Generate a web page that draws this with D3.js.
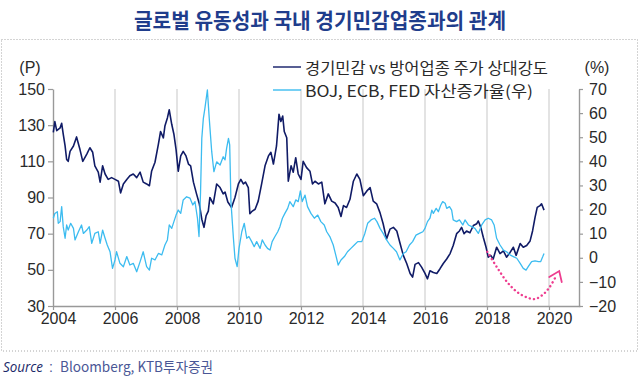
<!DOCTYPE html>
<html><head><meta charset="utf-8">
<script src="https://cdn.jsdelivr.net/npm/d3@7"></script>
<style>
body{margin:0;background:#fff;}
svg{display:block;}
</style></head><body>
<svg id="c" width="640" height="378"></svg>
<script>
const titleText = "글로벌 유동성과 국내 경기민감업종과의 관계";
const seriesNames = ["경기민감 vs 방어업종 주가 상대강도", "BOJ, ECB, FED 자산증가율(우)"];
const leftUnit = "(P)";
const rightUnit = "(%)";
const sourceLabel = "Source";
const sourceText = "Bloomberg, KTB투자증권";
const xTicks = [2004, 2006, 2008, 2010, 2012, 2014, 2016, 2018, 2020];
const leftTicks = [30, 50, 70, 90, 110, 130, 150];
const rightTicks = [-20, -10, 0, 10, 20, 30, 40, 50, 60, 70];

// 경기민감 vs 방어업종 주가 상대강도 (left axis)
const cyclicalYears = [2004.01,2004.06,2004.12,2004.23,2004.28,2004.33,2004.39,2004.44,2004.49,2004.55,2004.66,2004.76,2004.87,2004.96,
2005.09,2005.19,2005.28,2005.35,2005.46,2005.52,2005.60,2005.68,2005.78,2005.89,
2006.00,2006.11,2006.18,2006.27,2006.38,2006.48,2006.59,2006.70,2006.81,2006.91,
2007.02,2007.11,2007.18,2007.29,2007.40,2007.47,2007.56,2007.61,2007.69,2007.75,2007.83,2007.90,2007.97,
2008.04,2008.12,2008.20,2008.29,2008.37,2008.44,2008.53,2008.63,2008.72,2008.80,2008.87,2008.94,
2009.01,2009.06,2009.17,2009.28,2009.39,2009.49,2009.55,2009.64,2009.76,2009.87,2009.98,
2010.06,2010.14,2010.21,2010.30,2010.35,2010.43,2010.52,2010.62,2010.73,2010.84,2010.95,
2011.03,2011.11,2011.21,2011.29,2011.35,2011.41,2011.46,2011.54,2011.59,2011.68,2011.75,2011.83,2011.91,
2012.00,2012.07,2012.18,2012.29,2012.37,2012.45,2012.56,2012.67,2012.77,2012.88,2012.99,
2013.10,2013.20,2013.29,2013.37,2013.47,2013.58,2013.69,2013.80,2013.90,
2014.01,2014.12,2014.23,2014.33,2014.44,2014.55,2014.65,2014.76,2014.87,2014.98,
2015.09,2015.19,2015.30,2015.41,2015.52,2015.60,2015.68,2015.79,2015.89,
2016.00,2016.08,2016.16,2016.27,2016.38,2016.48,2016.59,2016.70,2016.81,2016.91,
2017.02,2017.11,2017.18,2017.26,2017.34,2017.45,2017.56,2017.67,2017.72,2017.80,2017.88,2017.97,
2018.04,2018.12,2018.20,2018.31,2018.42,2018.53,2018.63,2018.74,2018.85,2018.94,
2019.07,2019.17,2019.28,2019.39,2019.47,2019.55,2019.62,2019.71,2019.76,2019.84];
const cyclicalValues = [126,132,127,128.5,131,125,118.5,111,110,115.5,118.5,123.5,116.5,110,
114,117.5,115,107.5,104,98.5,107.5,103,100,101,
100,99,92.5,97.5,100,102,103,101,104,98.5,
97.5,96.5,104.5,109.5,119.5,126.5,123,129.5,134,138.5,130.5,125,116.5,
104.5,113,115.5,113,108.5,107.5,98.5,92,86.5,78,73.5,80,
82.5,90,86.5,97.5,95.5,92,93,87.5,84.5,90,97.5,
100,97.5,98.5,95.5,81,82.5,83.5,88,97.5,107.5,113,
115,108.5,118.5,136,132,135,126.5,123,99,107.5,104,112,103,
100,110,106.5,104.5,97.5,99,97.5,98.5,86.5,92,88,
87,84.5,79.5,85.5,84.5,89,99,103,100,
91,93.5,95.5,88,86.5,81.5,75.5,67,72.5,73.5,
71.5,65,58,53.5,48,46,53,54,51.5,
48,45,49.5,48.5,48,50.5,53.5,56,59,63.5,
70,71.5,73.5,70,71.5,70.5,74.5,75.5,77,73.5,68,62.5,
57,58,56,62.5,59,60.5,57,59.5,62.5,58,
64.5,62.5,63.5,66,71.5,79,84.5,85.5,86.5,83];

// BOJ, ECB, FED 자산증가율 (right axis, %)
const assetYears = [2004.01,2004.06,2004.14,2004.17,2004.23,2004.28,2004.33,2004.39,2004.44,2004.49,2004.57,2004.66,2004.71,2004.82,2004.92,2004.98,
2005.09,2005.17,2005.25,2005.35,2005.46,2005.52,2005.60,2005.68,2005.75,2005.84,2005.92,
2006.00,2006.05,2006.16,2006.27,2006.38,2006.48,2006.59,2006.70,2006.81,2006.91,
2007.02,2007.11,2007.18,2007.29,2007.40,2007.51,2007.61,2007.69,2007.75,2007.83,2007.90,2007.97,
2008.04,2008.12,2008.20,2008.31,2008.42,2008.51,2008.58,2008.66,2008.71,2008.76,2008.80,2008.85,2008.90,2008.98,
2009.04,2009.12,2009.19,2009.28,2009.39,2009.49,2009.55,2009.60,2009.66,2009.70,2009.74,2009.82,2009.87,2009.94,
2010.00,2010.09,2010.17,2010.25,2010.32,2010.41,2010.49,2010.57,2010.68,2010.75,2010.84,2010.92,
2011.00,2011.07,2011.16,2011.25,2011.32,2011.40,2011.48,2011.57,2011.64,2011.75,2011.83,2011.91,2011.98,
2012.04,2012.13,2012.21,2012.32,2012.43,2012.54,2012.64,2012.75,2012.83,2012.93,
2013.04,2013.12,2013.20,2013.29,2013.40,2013.50,2013.61,2013.72,2013.83,2013.96,
2014.06,2014.15,2014.26,2014.37,2014.45,2014.55,2014.65,2014.76,2014.87,2014.98,
2015.08,2015.19,2015.30,2015.39,2015.50,2015.60,2015.71,2015.82,2015.93,
2016.00,2016.08,2016.16,2016.22,2016.27,2016.36,2016.43,2016.51,2016.57,2016.65,2016.70,2016.79,2016.86,2016.91,
2017.02,2017.11,2017.22,2017.29,2017.40,2017.51,2017.61,2017.72,2017.83,2017.94,
2018.04,2018.15,2018.23,2018.31,2018.42,2018.53,2018.63,2018.74,2018.85,2018.96,
2019.07,2019.17,2019.26,2019.33,2019.44,2019.55,2019.66,2019.73,2019.80,2019.84];
const assetValues = [16.4,18.4,19.1,14.3,15,21.2,12.9,8.1,13.6,11.5,14.3,12.2,7.4,10.8,13.6,10.1,
11.5,12.9,6,10.1,10.8,6,11.5,8.1,5.3,2.5,-4.4,
-0.9,2.5,-2.3,-3.7,0.5,-3,-2.3,-5.8,-1.6,2.5,
-3.7,-5.1,-0.2,-0.9,1.8,1.2,5.3,7.4,13.6,12.2,15,17.7,
19.8,18.4,24,25.3,24.7,21.9,23.3,16.4,8.8,27.4,49.5,57.8,62,69.6,
57.8,44,35.7,39.8,38.5,41.9,40.6,45.4,49.5,46.8,23.3,8.1,-0.2,-3.7,
3.9,10.8,14.3,8.1,8.8,6.7,4.6,6.7,3.9,7.4,5.3,3.9,
3.2,6.7,8.8,10.8,12.9,16.4,18.4,20.5,23.3,21.2,24,23.3,27.7,
23.3,26,21.2,18.4,16.4,17.7,15,13.6,10.8,8.8,
5.3,1.2,-3,-0.9,0.5,2.5,3.9,5.3,6.7,6.7,
10.1,14.3,15.7,16.4,15,12.2,10.1,7.4,5.3,3.9,
2.5,-0.9,1.8,2.5,5.3,6.7,9.4,10.1,10.8,
12.2,15,16.4,19.8,18.4,20.5,19.1,21.9,23.3,22.6,20.5,21.2,19.8,15.7,
15,15.7,13.6,15.7,13.6,12.9,12.2,10.1,13.6,15.7,
16.4,15.7,13.6,8.1,5.3,3.2,2.5,1.2,0.5,-0.2,
-2.3,-4.4,-5.1,-3.7,-1.6,-1.3,-1.6,-1.6,0.5,1.8];

// annotation arrow (right axis coordinates)
const arrowYears = [2018.01, 2018.31, 2018.64, 2018.96, 2019.28, 2019.55, 2019.82, 2020.03, 2020.19];
const arrowValues = [2.5, -3.7, -9.9, -14.1, -16.4, -17.1, -15.1, -12, -8.5];
const arrowTip = [2020.33, -5.5];

const svg = d3.select("#c");
const L = 53, R = 580, T = 89, B = 306;
const x = d3.scaleLinear().domain([2004, 2021]).range([L, R]);
const yL = d3.scaleLinear().domain([30, 150]).range([B, T]);
const yR = d3.scaleLinear().domain([-20, 70]).range([B, T]);
const numFont = "'Liberation Sans', Arial, sans-serif";
const krFont = "'Noto Sans CJK KR', 'Noto Sans', sans-serif";

// dotted frame
svg.append("rect").attr("x", 1.5).attr("y", 39.5).attr("width", 636).attr("height", 311.5)
  .attr("fill", "none").attr("stroke", "#a8a8a8").attr("stroke-width", 1).attr("stroke-dasharray", "1,2");

// title
svg.append("text").attr("x", 320).attr("y", 28).attr("text-anchor", "middle")
  .attr("font-family", krFont).attr("font-weight", 700).attr("font-size", 21)
  .attr("fill", "#1f3d8c").attr("textLength", 372).attr("lengthAdjust", "spacingAndGlyphs")
  .text(titleText);

// grid
svg.append("g").selectAll("line").data(xTicks.slice(1)).join("line")
  .attr("x1", d => x(d)).attr("x2", d => x(d)).attr("y1", T).attr("y2", B)
  .attr("stroke", "#dadada").attr("stroke-width", 1.5);

function styleAxis(g) {
  g.select(".domain").attr("stroke", "#999").attr("stroke-width", 1.4);
  g.selectAll(".tick line").attr("stroke", "#999").attr("stroke-width", 1.2);
  g.selectAll("text").attr("font-family", numFont).attr("font-size", 16).attr("fill", "#2a2a2a");
}

const gx = svg.append("g").attr("transform", `translate(0,${B})`)
  .call(d3.axisBottom(x).tickValues(xTicks).tickFormat(d3.format("d")).tickSize(4).tickSizeOuter(0).tickPadding(3));
styleAxis(gx);
gx.selectAll("text").attr("dx", 5);

const gl = svg.append("g").attr("transform", `translate(${L},0)`)
  .call(d3.axisLeft(yL).tickValues(leftTicks).tickSize(5).tickSizeOuter(0).tickPadding(3));
styleAxis(gl);

const gr = svg.append("g").attr("transform", `translate(${R - 1},0)`)
  .call(d3.axisRight(yR).tickValues(rightTicks).tickSize(4).tickSizeOuter(0).tickPadding(6));
styleAxis(gr);

// unit labels
svg.append("text").attr("x", 30).attr("y", 67).attr("text-anchor", "middle").attr("dominant-baseline", "central")
  .attr("font-family", numFont).attr("font-size", 16).attr("fill", "#2a2a2a").text(leftUnit);
svg.append("text").attr("x", 597).attr("y", 67).attr("text-anchor", "middle").attr("dominant-baseline", "central")
  .attr("font-family", numFont).attr("font-size", 16).attr("fill", "#2a2a2a").text(rightUnit);

// series
const cyclicalData = cyclicalYears.map((d, i) => [d, cyclicalValues[i]]);
const assetData = assetYears.map((d, i) => [d, assetValues[i]]);
svg.append("path").datum(cyclicalData).attr("fill", "none").attr("stroke", "#101b66").attr("stroke-width", 1.6)
  .attr("stroke-linejoin", "round")
  .attr("d", d3.line().x(d => x(d[0])).y(d => yL(d[1])));
svg.append("path").datum(assetData).attr("fill", "none").attr("stroke", "#3cbcf0").attr("stroke-width", 1.3)
  .attr("stroke-linejoin", "round")
  .attr("d", d3.line().x(d => x(d[0])).y(d => yR(d[1])));

// pink dotted arrow
const arrowData = arrowYears.map((d, i) => [d, arrowValues[i]]);
svg.append("path").datum(arrowData).attr("fill", "none").attr("stroke", "#ee3d8f").attr("stroke-width", 2.4)
  .attr("stroke-linecap", "round").attr("stroke-dasharray", "0.1,4.2")
  .attr("d", d3.line().curve(d3.curveCatmullRom).x(d => x(d[0])).y(d => yR(d[1])));
const tx = x(arrowTip[0]), ty = yR(arrowTip[1]);
svg.append("path").attr("fill", "none").attr("stroke", "#ee3d8f").attr("stroke-width", 1.8)
  .attr("stroke-linecap", "round").attr("stroke-linejoin", "miter")
  .attr("d", `M${tx - 10},${ty + 6}L${tx},${ty}L${tx + 2.5},${ty + 11}`);

// legend
const legendColors = ["#101b66", "#3cbcf0"];
const legendY = [67, 90];
const legendLen = [243, 228];
seriesNames.forEach((name, i) => {
  svg.append("line").attr("x1", 273).attr("x2", 301).attr("y1", legendY[i]).attr("y2", legendY[i])
    .attr("stroke", legendColors[i]).attr("stroke-width", 1.4);
  svg.append("text").attr("x", 305).attr("y", legendY[i]).attr("dominant-baseline", "central")
    .attr("font-family", krFont).attr("font-size", 15.5).attr("fill", "#2a2a2a")
    .attr("textLength", legendLen[i]).attr("lengthAdjust", "spacingAndGlyphs").text(name);
});

// source
svg.append("text").attr("x", 3).attr("y", 372).attr("font-family", "'Open Sans', sans-serif").attr("font-style", "italic")
  .attr("font-size", 14).attr("fill", "#1a2868").attr("textLength", 40).attr("lengthAdjust", "spacingAndGlyphs").text(sourceLabel);
svg.append("text").attr("x", 49).attr("y", 372).attr("font-family", numFont)
  .attr("font-size", 14).attr("fill", "#4a5796").text(":");
svg.append("text").attr("x", 60).attr("y", 372).attr("font-family", krFont)
  .attr("font-size", 14).attr("fill", "#4a5796").attr("textLength", 153).attr("lengthAdjust", "spacingAndGlyphs").text(sourceText);
</script>
</body></html>
